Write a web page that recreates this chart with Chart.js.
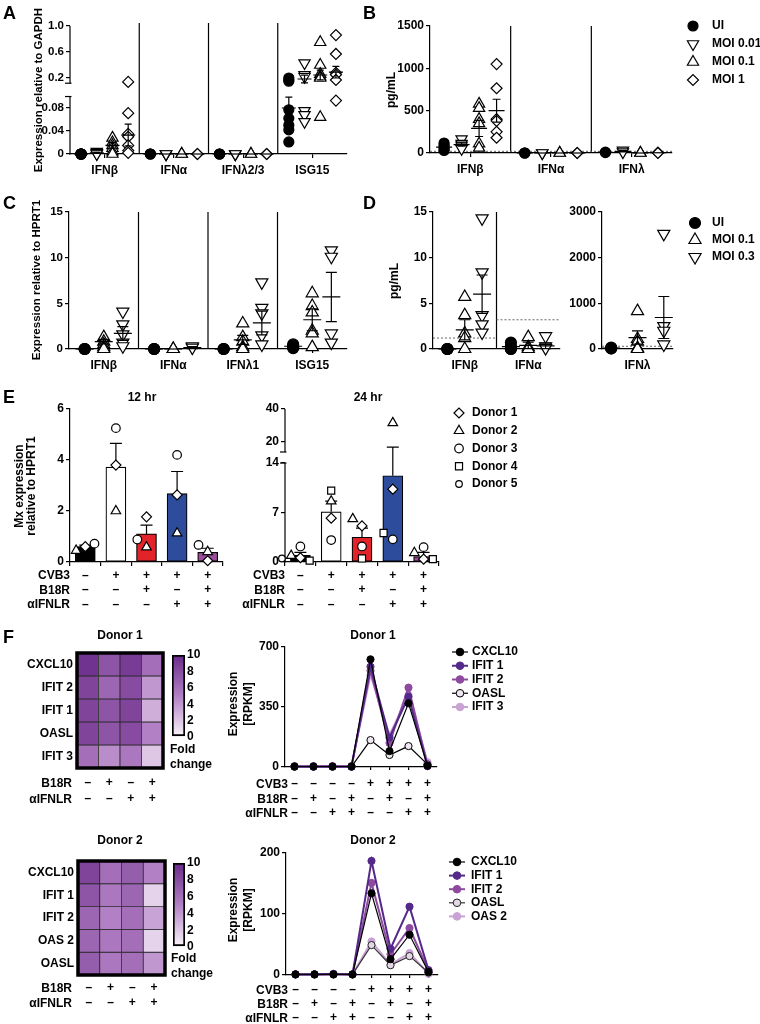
<!DOCTYPE html>
<html><head><meta charset="utf-8">
<script src="https://cdn.jsdelivr.net/npm/chart.js@4.4.1/dist/chart.umd.min.js"></script>
<style>
html,body{margin:0;padding:0;background:#fff;}
#stage{position:relative;width:760px;height:1024px;overflow:hidden;background:#fff;}
#stage canvas{position:absolute;left:0;top:0;}
.t{position:absolute;font-family:"Liberation Sans",Arial,Helvetica,sans-serif;font-weight:bold;font-size:12px;color:#000;white-space:nowrap;line-height:1;}
.c{transform:translate(-50%,-50%);text-align:center;}
.r{transform:translate(-100%,-50%);text-align:right;}
.l{transform:translate(0,-50%);}
.rot{transform:translate(-50%,-50%) rotate(-90deg);text-align:center;}
.big{font-size:18px;}
</style></head><body><div id="stage"></div>
<script>
// ================= DATA =================
// Panel A
const aGroups = ['IFNβ', 'IFNα', 'IFNλ2/3', 'ISG15'];
const aConds = ['UI', 'MOI 0.01', 'MOI 0.1', 'MOI 1'];
const aUI     = [[0,0,0,0,0,0,0,0], [0,0,0], [0,0,0], [0.2,0.17,0.15,0.077,0.062,0.05,0.042,0.021]];
const aMOI001 = [[0.004,0.002,0.001,0], [0,0,0], [0,0,0], [0.43,0.25,0.22,0.075,0.068,0.056]];
const aMOI01  = [[0.028,0.02,0.015,0.01,0.004,0], [0,0], [0,0], [0.75,0.4,0.26,0.22,0.2,0.064]];
const aMOI1   = [[0.14,0.071,0.035,0.03,0.015,0.006,0.002], [0,0], [0,0], [0.86,0.57,0.28,0.25,0.17,0.093]];
const aMeanUI = [0, 0, 0, 0.08];         const aSemUI = [0, 0, 0, 0.019];
const aMeanMOI001 = [0.002, 0, 0, 0.185]; const aSemMOI001 = [0.001, 0, 0, 0.06];
const aMeanMOI01 = [0.015, 0, 0, 0.246];  const aSemMOI01 = [0.005, 0, 0, 0.075];
const aMeanMOI1 = [0.033, 0, 0, 0.29];    const aSemMOI1 = [0.019, 0, 0, 0.09];
const aTickValues = [0, 0.04, 0.08, 0.2, 0.6, 1.0];
const aTickLabels = ['0', '0.04', '0.08', '0.2', '0.6', '1.0'];

// Panel B
const bGroups = ['IFNβ', 'IFNα', 'IFNλ'];
const bConds = ['UI', 'MOI 0.01', 'MOI 0.1', 'MOI 1'];
const bUI     = [[118,95,70,45,30], [0,0,0], [10,5]];
const bMOI001 = [[165,110,90,65,50], [0,0], [30,10]];
const bMOI01  = [[580,530,400,350,110,60], [0,0], [0,0]];
const bMOI1   = [[1050,765,400,380,250,180], [0,0], [5,0]];
const bMeanUI = [70, 0, 8];      const bSemUI = [16, 0, 3];
const bMeanMOI001 = [100, 0, 20]; const bSemMOI001 = [20, 0, 8];
const bMeanMOI01 = [290, 0, 0];   const bSemMOI01 = [95, 0, 0];
const bMeanMOI1 = [500, 0, 3];    const bSemMOI1 = [135, 0, 2];
const bTicks = [0, 500, 1000, 1500];
const bLOD = [20];

// Panel C
const cGroups = ['IFNβ', 'IFNα', 'IFNλ1', 'ISG15'];
const cConds = ['UI', 'MOI 0.1', 'MOI 0.3'];
const cUI    = [[0,0,0], [0,0,0], [0,0,0], [0.5,0.35,0.2,0.1]];
const cMOI01 = [[1.3,0.8,0.5,0.2,0], [0,0], [2.8,1.3,0.8,0.2,0], [6.1,4.7,4.0,2.0,1.7,0.2]];
const cMOI03 = [[4.1,2.7,1.6,0.7,0.3], [0.3,0.15], [7.3,4.5,3.9,1.5,0.5], [10.8,10.1,1.7,0.7]];
const cMeanUI = [0, 0, 0, 0.3];          const cSemUI = [0, 0, 0, 0.09];
const cMeanMOI01 = [0.8, 0, 1.0, 3.2];   const cSemMOI01 = [0.25, 0, 0.5, 1.2];
const cMeanMOI03 = [1.7, 0.15, 2.85, 5.7]; const cSemMOI03 = [0.75, 0.1, 1.3, 2.7];
const cTicks = [0, 5, 10, 15];

// Panel D
const dGroups = ['IFNβ', 'IFNα'];
const dConds = ['UI', 'MOI 0.1', 'MOI 0.3'];
const dUI    = [[0,0,0,0], [0.7,0.3,0,0]];
const dMOI01 = [[5.7,3.7,1.7,1.2,0], [1.3,0.2,0]];
const dMOI03 = [[14.3,8.4,3.7,2.7,1.8], [1.4,0.3,0.1]];
const dMeanUI = [0, 0.25];     const dSemUI = [0, 0.17];
const dMeanMOI01 = [2.1, 0.4]; const dSemMOI01 = [1.1, 0.35];
const dMeanMOI03 = [6.0, 0.35]; const dSemMOI03 = [2.1, 0.3];
const dTicks = [0, 5, 10, 15];
const dLOD = [1.2, 3.2];
const dLamGroups = ['IFNλ'];
const dLamUI    = [[30,20,10]];
const dLamMOI01 = [[830,220,160,20,0]];
const dLamMOI03 = [[2520,500,400,100]];
const dLamMeanUI = [20];     const dLamSemUI = [6];
const dLamMeanMOI01 = [250]; const dLamSemMOI01 = [145];
const dLamMeanMOI03 = [690]; const dLamSemMOI03 = [460];
const dLamTicks = [0, 1000, 2000, 3000];
const dLamLOD = [60];

// Panel E
const eCVB3  = ['–','+','+','+','+'];
const eB18R  = ['–','–','+','–','+'];
const eIFNLR = ['–','–','–','+','+'];
const eRowNames = ['CVB3', 'B18R', 'αIFNLR'];
const eBarColors = ['#000000', '#ffffff', '#e3232a', '#2d4c9c', '#9c4b9d'];
const eDonors = ['Donor 1', 'Donor 2', 'Donor 3', 'Donor 4', 'Donor 5'];
const e12Mean = [0.6, 3.72, 1.1, 2.68, 0.38];
const e12Sem  = [0.06, 0.93, 0.35, 0.87, 0.16];
const e12D1 = [0.6, 3.8, 1.77, 2.63, 0.05];
const e12D2 = [0.45, 2.0, 0.58, 1.13, 0.4];
const e12D3 = [0.72, 5.25, 0.88, 4.2, 0.67];
const e12Ticks = [0, 2, 4, 6];
const e24Mean = [0.95, 7.1, 3.5, 12.2, 0.75];
const e24Sem  = [0.4, 1.5, 1.3, 4.8, 0.6];
const e24D1 = [0.6, 6.2, 5.1, 10.3, 0.4];
const e24D2 = [0.9, 8.6, 6.1, 31.6, 1.3];
const e24D3 = [2.2, 3.1, 2.2, 3.2, 2.1];
const e24D4 = [0.2, 10.1, 0.5, 4.1, 0.4];
const e24D5 = [0.5, null, null, null, null];
const e24TickValues = [0, 7, 14, 20, 40];
const e24TickLabels = ['0', '7', '14', '20', '40'];

// Panel F
const hmB18R  = ['–','+','–','+'];
const hmIFNLR = ['–','–','+','+'];
const hmRowNames = ['B18R', 'αIFNLR'];
const h1Genes = ['CXCL10', 'IFIT 2', 'IFIT 1', 'OASL', 'IFIT 3'];
const h1Vals = [[9.5,7.5,9,6], [8.5,6.5,8,4], [8.5,7.5,8.5,3], [8.5,7.5,8,5], [6,4.5,5.5,2]];
const h2Genes = ['CXCL10', 'IFIT 1', 'IFIT 2', 'OAS 2', 'OASL'];
const h2Vals = [[8.5,6,7,5], [7.5,5.5,6.5,1.5], [6.5,5,6,3.5], [6.5,5.5,6,1.5], [7,5.5,6,4]];
const foldTicks = [0, 2, 4, 6, 8, 10];
const fCVB3  = ['–','–','–','–','+','+','+','+'];
const fB18R  = ['–','+','–','+','–','+','–','+'];
const fIFNLR = ['–','–','+','+','–','–','+','+'];
const f1Genes = ['CXCL10', 'IFIT 1', 'IFIT 2', 'OASL', 'IFIT 3'];
const f1CXCL10 = [3,3,3,3,628,93,372,8];
const f1IFIT1  = [2,2,2,2,585,172,410,5];
const f1IFIT2  = [4,4,4,4,562,140,463,12];
const f1OASL   = [2,2,2,2,157,70,122,15];
const f1IFIT3  = [6,6,6,6,537,187,420,28];
const f1Ticks = [0, 350, 700];
const f2Genes = ['CXCL10', 'IFIT 1', 'IFIT 2', 'OASL', 'OAS 2'];
const f2CXCL10 = [1,1,1,1,134,26,66,5];
const f2IFIT1  = [1,1,2,1,187,43,112,8];
const f2IFIT2  = [1,1,1,1,151,34,77,7];
const f2OASL   = [1,1,1,1,49,16,31,4];
const f2OAS2   = [1,1,1,1,55,17,36,2];
const f2Ticks = [0, 100, 200];

// ================= SETUP =================
const FONT = '"Liberation Sans", Arial, Helvetica, sans-serif';
Chart.defaults.font.family = FONT;
Chart.defaults.font.weight = 'bold';
Chart.defaults.font.size = 12;
Chart.defaults.color = '#000';
Chart.defaults.animation = false;
Chart.defaults.responsive = false;
Chart.defaults.maintainAspectRatio = false;
Chart.defaults.events = [];
Chart.defaults.plugins.legend.display = false;
Chart.defaults.plugins.tooltip.enabled = false;

function segFrac(segs, v) {
  for (let i = 0; i < segs.length; i++) {
    const s = segs[i];
    if (v <= s.max || i === segs.length - 1) {
      if (i > 0 && v < s.min) {
        const p = segs[i - 1];
        return p.hi + (v - p.max) / (s.min - p.max) * (s.lo - p.hi);
      }
      return s.lo + (v - s.min) / (s.max - s.min) * (s.hi - s.lo);
    }
  }
  return 0;
}

class BrokenScale extends Chart.LinearScale {
  determineDataLimits() {
    this.min = this.options.min; this.max = this.options.max;
    const segs = this.options.segments || [];
    this._segs = [];
    for (let i = 0; i < segs.length; i++) this._segs.push({min: segs[i].min, max: segs[i].max, lo: segs[i].lo, hi: segs[i].hi});
  }
  buildTicks() {
    const tv = this.options.tickValues || [];
    const out = [];
    for (let i = 0; i < tv.length; i++) out.push({value: tv[i]});
    return out;
  }
  getPixelForValue(v) {
    if (v === null || v === undefined || isNaN(v)) return NaN;
    return this.bottom - segFrac(this._segs, v) * (this.bottom - this.top);
  }
  getValueForPixel(p) {
    const f = (this.bottom - p) / (this.bottom - this.top);
    const segs = this._segs;
    for (let i = 0; i < segs.length; i++) {
      const s = segs[i];
      if (f <= s.hi || i === segs.length - 1) return s.min + (f - s.lo) / (s.hi - s.lo) * (s.max - s.min);
    }
    return 0;
  }
}
BrokenScale.id = 'broken';
Chart.register(BrokenScale);

function mark(ctx, style, r, rot, x, y, bw) {
  if (Chart.helpers && Chart.helpers.drawPoint) {
    Chart.helpers.drawPoint(ctx, {pointStyle: style, radius: r, rotation: rot || 0, borderWidth: bw}, x, y);
  } else {
    ctx.beginPath(); ctx.arc(x, y, r, 0, Math.PI * 2); ctx.fill(); if (bw > 0) ctx.stroke();
  }
}

const refPlugin = {
  id: 'refLines',
  beforeDatasetsDraw(chart, args, o) {
    if (!o || (!o.vx && !o.hy)) return;
    const ctx = chart.ctx, xs = chart.scales.x, ys = chart.scales.y, ca = chart.chartArea;
    ctx.save();
    (o.vx || []).forEach(v => {
      const x = xs.getPixelForValue(v);
      ctx.strokeStyle = '#000'; ctx.lineWidth = 1.2; ctx.setLineDash([]);
      ctx.beginPath(); ctx.moveTo(x, ca.bottom); ctx.lineTo(x, ca.top + (o.vTop || 0)); ctx.stroke();
    });
    (o.hy || []).forEach(h => {
      const y = ys.getPixelForValue(h.y);
      const x0 = (h.x0 === undefined || h.x0 === null) ? ca.left : xs.getPixelForValue(h.x0);
      const x1 = (h.x1 === undefined || h.x1 === null) ? ca.right : xs.getPixelForValue(h.x1);
      ctx.strokeStyle = '#666'; ctx.lineWidth = 1; ctx.setLineDash([2, 2]);
      ctx.beginPath(); ctx.moveTo(x0, y); ctx.lineTo(x1, y); ctx.stroke();
    });
    ctx.restore();
  }
};

function drawErr(chart, o) {
  const xs = chart.scales.x, ys = chart.scales.y, ctx = chart.ctx;
  ctx.save(); ctx.strokeStyle = '#000'; ctx.lineWidth = o.lw || 1.2; ctx.setLineDash([]);
  o.items.forEach(it => {
    const x = xs.getPixelForValue(it.x);
    const ym = ys.getPixelForValue(it.m), yl = ys.getPixelForValue(it.lo), yh = ys.getPixelForValue(it.hi);
    ctx.beginPath();
    if (o.meanW) { ctx.moveTo(x - o.meanW / 2, ym); ctx.lineTo(x + o.meanW / 2, ym); }
    if (Math.abs(yh - yl) > 0.5) {
      ctx.moveTo(x, yl); ctx.lineTo(x, yh);
      ctx.moveTo(x - o.capW / 2, yh); ctx.lineTo(x + o.capW / 2, yh);
      if (o.lower !== false) { ctx.moveTo(x - o.capW / 2, yl); ctx.lineTo(x + o.capW / 2, yl); }
    }
    ctx.stroke();
  });
  ctx.restore();
}
const errPlugin = {
  id: 'errBars',
  afterDatasetDraw(chart, args, o) {
    if (!o || !o.items || o.after === undefined || o.after === null || args.index !== o.after) return;
    drawErr(chart, o);
  },
  afterDatasetsDraw(chart, args, o) {
    if (!o || !o.items || (o.after !== undefined && o.after !== null)) return;
    drawErr(chart, o);
  }
};

const brokenPlugin = {
  id: 'brokenAxis',
  beforeDatasetsDraw(chart) {
    const ys = chart.scales.y;
    if (!ys || ys.type !== 'broken' || !ys._segs) return;
    const ctx = chart.ctx, x = ys.right, segs = ys._segs, H = ys.bottom - ys.top;
    ctx.save(); ctx.strokeStyle = '#000'; ctx.lineWidth = 1.2; ctx.setLineDash([]);
    segs.forEach((s, i) => {
      const y0 = ys.bottom - s.lo * H, y1 = ys.bottom - s.hi * H;
      ctx.beginPath(); ctx.moveTo(x, y0 + (i === 0 ? 0.6 : 0)); ctx.lineTo(x, y1); ctx.stroke();
      ctx.beginPath();
      if (i > 0) { ctx.moveTo(x - 5, y0); ctx.lineTo(x + 1.5, y0); }
      if (i < segs.length - 1) { ctx.moveTo(x - 5, y1); ctx.lineTo(x + 1.5, y1); }
      ctx.stroke();
    });
    ctx.restore();
  }
};

const legendPlugin = {
  id: 'plainLegend',
  afterDraw(chart, args, o) {
    if (!o || o.x === undefined || o.x === null) return;
    const ctx = chart.ctx;
    ctx.save();
    let y = o.y;
    chart.data.datasets.forEach(ds => {
      if (!ds.label || ds.noLegend) return;
      if (o.line) {
        ctx.setLineDash([]); ctx.strokeStyle = ds.borderColor; ctx.lineWidth = ds.borderWidth;
        ctx.beginPath(); ctx.moveTo(o.x - o.line, y); ctx.lineTo(o.x + o.line, y); ctx.stroke();
      }
      ctx.fillStyle = ds.pointBackgroundColor; ctx.strokeStyle = ds.pointBorderColor; ctx.lineWidth = ds.pointBorderWidth;
      mark(ctx, ds.pointStyle, ds.legendRadius || ds.pointRadius, ds.pointRotation || 0, o.x, y, ds.pointBorderWidth);
      ctx.fillStyle = '#000';
      ctx.font = 'bold ' + (o.size || 12) + 'px ' + FONT;
      ctx.textAlign = 'left'; ctx.textBaseline = 'middle';
      ctx.fillText(ds.label, o.tx, y);
      y += o.dy;
    });
    ctx.restore();
  }
};

const framePlugin = {
  id: 'frame',
  afterDatasetsDraw(chart, args, o) {
    if (!o || !o.width) return;
    const ca = chart.chartArea, ctx = chart.ctx;
    ctx.save(); ctx.lineWidth = o.width; ctx.strokeStyle = '#000'; ctx.setLineDash([]);
    ctx.strokeRect(ca.left, ca.top, ca.right - ca.left, ca.bottom - ca.top);
    ctx.restore();
  }
};
Chart.register(refPlugin, errPlugin, brokenPlugin, legendPlugin, framePlugin);

// ================= LAYOUT HELPERS =================
const stage = document.getElementById('stage');
function place(cfg, area) {
  const cv = document.createElement('canvas');
  cv.width = 760; cv.height = 1024;
  stage.appendChild(cv);
  cfg.options = cfg.options || {};
  let pad = {left: Math.max(0, area.l - 40), top: area.t, right: 760 - area.r, bottom: Math.max(0, 1024 - area.b - 40)};
  cfg.options.layout = {padding: pad, autoPadding: false};
  const ch = new Chart(cv, cfg);
  for (let k = 0; k < 5; k++) {
    const ca = ch.chartArea;
    const dl = area.l - ca.left, dt = area.t - ca.top, dr = ca.right - area.r, db = ca.bottom - area.b;
    if (Math.abs(dl) + Math.abs(dt) + Math.abs(dr) + Math.abs(db) < 0.05) break;
    pad = {left: pad.left + dl, top: pad.top + dt, right: pad.right + dr, bottom: pad.bottom + db};
    ch.config.options.layout.padding = pad;
    ch.update('none');
  }
  return ch;
}
function txt(s, x, y, cls, style) {
  const d = document.createElement('div');
  d.className = 't ' + cls;
  d.innerHTML = s;
  d.style.left = x + 'px'; d.style.top = y + 'px';
  if (style) Object.assign(d.style, style);
  stage.appendChild(d);
  return d;
}

const AXB = {display: true, color: '#000', width: 1.2};
function tickGrid(len) {
  return {display: true, drawOnChartArea: false, drawTicks: true, tickLength: len, tickColor: '#000', tickWidth: 1.2, color: '#000', lineWidth: 1.2};
}
function groupXScale(groups, W, n, size) {
  const half = (W - (n - 1)) / 2;
  return {
    type: 'linear', position: 'bottom', min: -half, max: (groups.length - 1) * W + (n - 1) + half, offset: false,
    border: AXB, grid: tickGrid(4),
    afterBuildTicks: s => { s.ticks = groups.map((g, i) => ({value: i * W + (n - 1) / 2})); },
    ticks: {autoSkip: false, maxRotation: 0, minRotation: 0, padding: 6, font: {size: size, weight: 'bold', lineHeight: '14px'}, callback: (v, i) => groups[i]}
  };
}
function groupBounds(nGroups, W, n) {
  const half = (W - (n - 1)) / 2;
  const out = [];
  for (let g = 0; g < nGroups - 1; g++) out.push(g * W + (n - 1) + half);
  return out;
}
function linY(min, max, ticksArr, size) {
  return {
    type: 'linear', position: 'left', min, max, border: AXB, grid: tickGrid(4),
    afterBuildTicks: s => { s.ticks = ticksArr.map(v => ({value: v})); },
    ticks: {autoSkip: false, padding: 2, font: {size: size, weight: 'bold'}, callback: v => String(v)}
  };
}
function groupScatter(conds, vals, styles, W) {
  return conds.map((label, k) => ({
    type: 'scatter', label, clip: false,
    data: vals[k].flatMap((arr, g) => arr.map(v => ({x: g * W + k, y: v}))),
    pointStyle: styles[k][0], pointRadius: styles[k][1], pointRotation: styles[k][2],
    pointBackgroundColor: styles[k][3], pointBorderColor: '#000', pointBorderWidth: 1.2,
    pointHoverRadius: styles[k][1]
  }));
}
function groupErr(means, sems, W) {
  const out = [];
  means.forEach((mArr, k) => mArr.forEach((m, g) => out.push({x: g * W + k, m: m, lo: m - sems[k][g], hi: m + sems[k][g]})));
  return out;
}

const AREA = {
  A:  {l: 70,  t: 26,  r: 347, b: 154},
  B:  {l: 430, t: 26,  r: 672, b: 153},
  C:  {l: 69,  t: 212, r: 347, b: 349},
  D1: {l: 433, t: 212, r: 560, b: 349},
  D2: {l: 602, t: 212, r: 673, b: 349},
  E12:{l: 70,  t: 409, r: 223, b: 562},
  E24:{l: 285, t: 409, r: 439, b: 562},
  H1: {l: 77,  t: 653, r: 163, b: 768},
  K1: {l: 172, t: 655, r: 185, b: 737},
  L1: {l: 285, t: 647, r: 437, b: 767},
  H2: {l: 78,  t: 861, r: 165, b: 975},
  K2: {l: 173, t: 863, r: 185, b: 947},
  L2: {l: 286, t: 853, r: 438, b: 975}
};

// ================= PANEL A =================
const A_W = 4.41;
const SA = [['circle', 5, 0, '#000'], ['triangle', 6.5, 180, '#fff'], ['triangle', 6.5, 0, '#fff'], ['rectRot', 5.5, 0, '#fff']];
place({
  type: 'scatter',
  data: {datasets: groupScatter(aConds, [aUI, aMOI001, aMOI01, aMOI1], SA, A_W)},
  options: {
    scales: {
      x: groupXScale(aGroups, A_W, 4, 12),
      y: {type: 'broken', position: 'left', min: 0, max: 1, tickValues: aTickValues,
          segments: [{min: 0, max: 0.1, lo: 0, hi: 0.449}, {min: 0.12, max: 1, lo: 0.553, hi: 1}],
          border: {display: false}, grid: tickGrid(4),
          ticks: {autoSkip: false, padding: 2, font: {size: 11.5, weight: 'bold'}, callback: (v, i) => aTickLabels[i]}}
    },
    plugins: {
      refLines: {vx: groupBounds(4, A_W, 4), vTop: -3},
      errBars: {items: groupErr([aMeanUI, aMeanMOI001, aMeanMOI01, aMeanMOI1], [aSemUI, aSemMOI001, aSemMOI01, aSemMOI1], A_W), meanW: 14, capW: 7}
    }
  }
}, AREA.A);

// ================= PANEL B =================
const B_W = 4.61;
place({
  type: 'scatter',
  data: {datasets: groupScatter(bConds, [bUI, bMOI001, bMOI01, bMOI1], SA, B_W)},
  options: {
    scales: {x: groupXScale(bGroups, B_W, 4, 12), y: linY(0, 1500, bTicks, 12)},
    plugins: {
      refLines: {vx: groupBounds(3, B_W, 4), hy: bLOD.map(v => ({y: v}))},
      errBars: {items: groupErr([bMeanUI, bMeanMOI001, bMeanMOI01, bMeanMOI1], [bSemUI, bSemMOI001, bSemMOI01, bSemMOI1], B_W), meanW: 16, capW: 8},
      plainLegend: {x: 693, y: 26, dy: 18, tx: 712}
    }
  }
}, AREA.B);

// ================= PANEL C =================
const C_W = 3.64;
const SC = [['circle', 5.5, 0, '#000'], ['triangle', 7, 0, '#fff'], ['triangle', 7, 180, '#fff']];
place({
  type: 'scatter',
  data: {datasets: groupScatter(cConds, [cUI, cMOI01, cMOI03], SC, C_W)},
  options: {
    scales: {x: groupXScale(cGroups, C_W, 3, 12), y: linY(0, 15, cTicks, 11.5)},
    plugins: {
      refLines: {vx: groupBounds(4, C_W, 3)},
      errBars: {items: groupErr([cMeanUI, cMeanMOI01, cMeanMOI03], [cSemUI, cSemMOI01, cSemMOI03], C_W), meanW: 18, capW: 11}
    }
  }
}, AREA.C);

// ================= PANEL D =================
const D_W = 3.66;
const dBound = groupBounds(2, D_W, 3)[0];
place({
  type: 'scatter',
  data: {datasets: groupScatter(dConds, [dUI, dMOI01, dMOI03], SC, D_W)},
  options: {
    scales: {x: groupXScale(dGroups, D_W, 3, 12), y: linY(0, 15, dTicks, 12)},
    plugins: {
      refLines: {vx: [dBound], hy: [{y: dLOD[0], x1: dBound}, {y: dLOD[1], x0: dBound}]},
      errBars: {items: groupErr([dMeanUI, dMeanMOI01, dMeanMOI03], [dSemUI, dSemMOI01, dSemMOI03], D_W), meanW: 18, capW: 11}
    }
  }
}, AREA.D1);
const DL_W = 2.7;
place({
  type: 'scatter',
  data: {datasets: groupScatter(dConds, [dLamUI, dLamMOI01, dLamMOI03], SC, DL_W)},
  options: {
    scales: {x: groupXScale(dLamGroups, DL_W, 3, 12), y: linY(0, 3000, dLamTicks, 12)},
    plugins: {
      refLines: {hy: dLamLOD.map(v => ({y: v}))},
      errBars: {items: groupErr([dLamMeanUI, dLamMeanMOI01, dLamMeanMOI03], [dLamSemUI, dLamSemMOI01, dLamSemMOI03], DL_W), meanW: 18, capW: 11},
      plainLegend: {x: 695, y: 223, dy: 17, tx: 712}
    }
  }
}, AREA.D2);

// ================= PANEL E =================
const E_STY = [['rectRot', 5, 0], ['triangle', 5.5, 0], ['circle', 4.3, 0], ['rect', 5, 0], ['circle', 3.3, 0]];
const E24SEG = [{min: 0, max: 14, lo: 0, hi: 0.647}, {min: 14, max: 40, lo: 0.719, hi: 1}];
function jitterOffsets(series, frac, pxH, pxPerUnit) {
  const n = series[0].length;
  const offs = series.map(() => new Array(n).fill(0));
  const step = 0.3, minD = 8.5;
  for (let c = 0; c < n; c++) {
    const placed = [];
    series.forEach((s, d) => {
      const v = s[c];
      if (v === null || v === undefined) return;
      const py = frac(v) * pxH;
      for (const k of [0, -1, 1, -2, 2]) {
        const ox = k * step;
        if (placed.every(p => Math.abs(p.y - py) >= minD || Math.abs(p.x - ox) * pxPerUnit >= minD)) {
          offs[d][c] = ox; placed.push({x: ox, y: py}); break;
        }
      }
    });
  }
  return offs;
}
function eDatasets(means, donorVals, frac) {
  const offs = jitterOffsets(donorVals, frac, 153, 31);
  const ds = [{
    type: 'bar', label: '', noLegend: true, order: 5,
    data: means.map((m, i) => ({x: i, y: m})),
    backgroundColor: eBarColors, borderColor: '#000', borderWidth: 1.2, barThickness: 20, borderSkipped: false
  }];
  donorVals.forEach((vals, k) => {
    const pts = [];
    vals.forEach((v, i) => { if (v !== null && v !== undefined) pts.push({x: i + offs[k][i], y: v}); });
    ds.push({
      type: 'scatter', label: eDonors[k], order: 1, clip: false, data: pts,
      pointStyle: E_STY[k][0], pointRadius: E_STY[k][1], pointRotation: E_STY[k][2],
      pointBackgroundColor: '#fff', pointBorderColor: '#000', pointBorderWidth: 1.2, pointHoverRadius: E_STY[k][1]
    });
  });
  return ds;
}
function eXScale() {
  return {
    type: 'linear', position: 'bottom', min: -0.5, max: 4.5, offset: false, border: AXB, grid: tickGrid(4),
    afterBuildTicks: s => { s.ticks = eCVB3.map((_, i) => ({value: i})); },
    ticks: {autoSkip: false, maxRotation: 0, minRotation: 0, padding: 2, font: {size: 12, weight: 'bold', lineHeight: '14.5px'},
            callback: (v, i) => [eCVB3[i], eB18R[i], eIFNLR[i]]}
  };
}
function eErr(means, sems) {
  return means.map((m, i) => ({x: i, m: m, lo: m, hi: m + sems[i]}));
}
place({
  type: 'bar',
  data: {datasets: eDatasets(e12Mean, [e12D1, e12D2, e12D3], v => v / 6)},
  options: {
    scales: {x: eXScale(), y: linY(0, 6, e12Ticks, 12)},
    plugins: {errBars: {items: eErr(e12Mean, e12Sem), meanW: 0, capW: 12, after: 0, lower: false}}
  }
}, AREA.E12);
place({
  type: 'bar',
  data: {datasets: eDatasets(e24Mean, [e24D1, e24D2, e24D3, e24D4, e24D5], v => segFrac(E24SEG, v))},
  options: {
    scales: {
      x: eXScale(),
      y: {type: 'broken', position: 'left', min: 0, max: 40, tickValues: e24TickValues, segments: E24SEG,
          border: {display: false}, grid: tickGrid(4),
          ticks: {autoSkip: false, padding: 2, font: {size: 12, weight: 'bold'}, callback: (v, i) => e24TickLabels[i]}}
    },
    plugins: {
      errBars: {items: eErr(e24Mean, e24Sem), meanW: 0, capW: 12, after: 0, lower: false},
      plainLegend: {x: 459, y: 413, dy: 17.75, tx: 472}
    }
  }
}, AREA.E24);

// ================= PANEL F =================
const CMAP = [[0, [250, 246, 251]], [5, [178, 128, 196]], [10, [106, 42, 138]]];
function cmap(v) {
  for (let i = 1; i < CMAP.length; i++) {
    if (v <= CMAP[i][0] || i === CMAP.length - 1) {
      const a = CMAP[i - 1], b = CMAP[i];
      const t = Math.max(0, Math.min(1, (v - a[0]) / (b[0] - a[0])));
      const c = a[1].map((x, j) => Math.round(x + (b[1][j] - x) * t));
      return 'rgb(' + c.join(',') + ')';
    }
  }
}
function heatChart(genes, vals, area, xPad, lh) {
  const n = genes.length;
  return place({
    type: 'bar',
    data: {
      labels: hmB18R.map((b, i) => [b, hmIFNLR[i]]),
      datasets: genes.map((g, r) => ({
        label: g, noLegend: true, grouped: false,
        data: vals[r].map(() => [n - 1 - r, n - r]),
        backgroundColor: vals[r].map(cmap),
        borderColor: '#2b2b2b', borderWidth: 0.8, borderSkipped: false,
        barPercentage: 1, categoryPercentage: 1
      }))
    },
    options: {
      scales: {
        x: {type: 'category', border: {display: false}, grid: {display: false, drawTicks: false},
            ticks: {autoSkip: false, maxRotation: 0, padding: xPad, font: {size: 12, weight: 'bold', lineHeight: lh + 'px'}}},
        y: {type: 'linear', min: 0, max: n, border: {display: false}, grid: {display: false, drawTicks: false},
            afterBuildTicks: s => { s.ticks = genes.map((g, i) => ({value: n - 0.5 - i})); },
            afterFit: s => { s.width = 60; },
            ticks: {autoSkip: false, padding: 4, font: {size: 12, weight: 'bold'}, callback: (v, i) => genes[i]}}
      },
      plugins: {frame: {width: 3.5}}
    }
  }, area);
}
function colorBar(area) {
  const lo = foldTicks[0], hi = foldTicks[foldTicks.length - 1];
  return place({
    type: 'bar',
    data: {labels: [''], datasets: [{
      data: [[lo, hi]], barPercentage: 1, categoryPercentage: 1,
      backgroundColor: c => {
        const ca = c.chart.chartArea;
        if (!ca) return '#a070b0';
        const g = c.chart.ctx.createLinearGradient(0, ca.bottom, 0, ca.top);
        CMAP.forEach(s => g.addColorStop((s[0] - lo) / (hi - lo), 'rgb(' + s[1].join(',') + ')'));
        return g;
      },
      borderColor: '#000', borderWidth: 2, borderSkipped: false
    }]},
    options: {
      scales: {
        x: {display: false},
        y: {type: 'linear', position: 'right', min: lo, max: hi, z: 1,
            border: {display: false, dash: [3.5, 2.5]},
            grid: {display: true, drawOnChartArea: true, drawTicks: false, lineWidth: 2,
                   color: c => (c.tick && c.tick.value > lo && c.tick.value < hi) ? '#000' : 'rgba(0,0,0,0)'},
            afterBuildTicks: s => { s.ticks = foldTicks.map(v => ({value: v})); },
            afterFit: s => { s.width = 24; },
            ticks: {autoSkip: false, padding: 2, font: {size: 12, weight: 'bold'}, callback: v => String(v)}}
      }
    }
  }, area);
}
function lineChart(genes, series, styles, ticksArr, area, legend, xPad, lh) {
  return place({
    type: 'line',
    data: {
      labels: fCVB3.map((c, i) => [c, fB18R[i], fIFNLR[i]]),
      datasets: genes.map((g, k) => ({
        label: g, data: series[k], borderColor: styles[k][0], borderWidth: styles[k][1],
        pointRadius: 3.6, pointHoverRadius: 3.6, pointBackgroundColor: styles[k][2], pointBorderColor: styles[k][3],
        pointBorderWidth: 1, tension: 0, clip: false, legendRadius: 3.8
      }))
    },
    options: {
      scales: {
        x: {type: 'category', offset: true, border: AXB, grid: tickGrid(3),
            ticks: {autoSkip: false, maxRotation: 0, minRotation: 0, padding: xPad, font: {size: 12, weight: 'bold', lineHeight: lh + 'px'}}},
        y: linY(0, ticksArr[ticksArr.length - 1], ticksArr, 12)
      },
      plugins: {plainLegend: legend}
    }
  }, area);
}
const F1_STY = [['#000000', 1.2, '#000000', '#000000'], ['#55298a', 2, '#55298a', '#55298a'], ['#8d4a9f', 2, '#8d4a9f', '#8d4a9f'],
                ['#000000', 1.2, '#efe7f1', '#000000'], ['#c9a3d3', 2, '#c9a3d3', '#c9a3d3']];
const F2_STY = [['#000000', 1.2, '#000000', '#000000'], ['#55298a', 2, '#55298a', '#55298a'], ['#8d4a9f', 2, '#8d4a9f', '#8d4a9f'],
                ['#333333', 1.2, '#e3d7e6', '#222222'], ['#c9a3d3', 2, '#c9a3d3', '#c9a3d3']];
heatChart(h1Genes, h1Vals, AREA.H1, 7, 16);
colorBar(AREA.K1);
lineChart(f1Genes, [f1CXCL10, f1IFIT1, f1IFIT2, f1OASL, f1IFIT3], F1_STY, f1Ticks, AREA.L1, {x: 460, y: 652, dy: 13.75, tx: 472, line: 8}, 6.75, 14.5);
heatChart(h2Genes, h2Vals, AREA.H2, 5.5, 15);
colorBar(AREA.K2);
lineChart(f2Genes, [f2CXCL10, f2IFIT1, f2IFIT2, f2OASL, f2OAS2], F2_STY, f2Ticks, AREA.L2, {x: 457, y: 862, dy: 13.6, tx: 471, line: 8}, 5, 14);

// ================= TEXT =================
[['A', 3, 13], ['B', 363, 13], ['C', 3, 203], ['D', 363, 203], ['E', 3, 397], ['F', 3, 637]].forEach(p => txt(p[0], p[1], p[2], 'l big'));
txt('Expression relative to GAPDH', 39, 90, 'rot', {fontSize: '11.5px'});
txt('pg/mL', 391, 90, 'rot');
txt('Expression relative to HPRT1', 37, 280, 'rot', {fontSize: '11.5px'});
txt('pg/mL', 394, 281, 'rot');
txt('Mx expression<br>relative to HPRT1', 24.75, 486, 'rot', {lineHeight: '11.5px'});
txt('Expression<br>[RPKM]', 240.5, 704, 'rot', {lineHeight: '15px'});
txt('Expression<br>[RPKM]', 240.5, 910, 'rot', {lineHeight: '15px'});
txt('12 hr', 142, 397, 'c');
txt('24 hr', 368, 397, 'c');
txt('Donor 1', 120, 635, 'c');
txt('Donor 1', 373, 635, 'c');
txt('Donor 2', 120, 840, 'c');
txt('Donor 2', 373, 840, 'c');
txt('Fold', 170, 749, 'l'); txt('change', 170, 764, 'l');
txt('Fold', 171, 958, 'l'); txt('change', 171, 973, 'l');
eRowNames.forEach((s, i) => { txt(s, 70, 575.25 + i * 14.5, 'r'); txt(s, 285, 575.25 + i * 14.5, 'r'); });
hmRowNames.forEach((s, i) => { txt(s, 72, 783 + i * 16, 'r'); txt(s, 72, 988 + i * 15, 'r'); });
eRowNames.forEach((s, i) => { txt(s, 288, 784 + i * 14.5, 'r'); txt(s, 288, 990 + i * 14, 'r'); });
</script></body></html>
